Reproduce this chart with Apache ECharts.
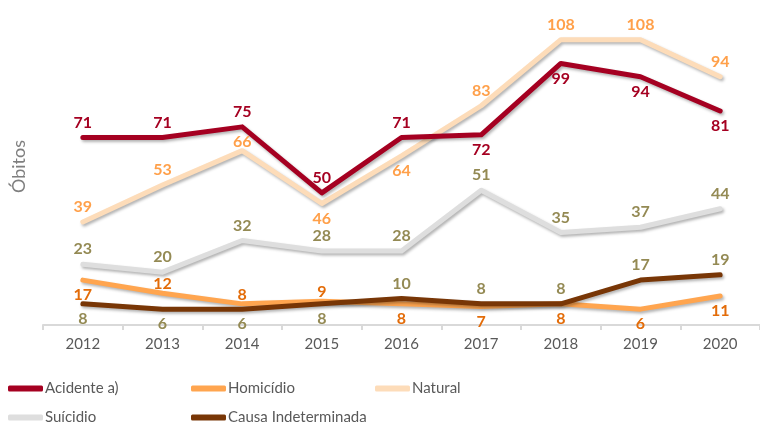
<!DOCTYPE html>
<html lang="pt">
<head>
    <meta charset="UTF-8">
    <title>Óbitos por causa</title>
    <script src="https://cdn.jsdelivr.net/npm/echarts@6/dist/echarts.min.js"></script>
    <style>
        body { margin: 0; background: #fff; }
        #chart { width: 760px; height: 423px; }
    </style>
</head>
<body>
<div id="chart"></div>
<script>
    // dados
    var anos = ['2012', '2013', '2014', '2015', '2016', '2017', '2018', '2019', '2020'];
    var acidente = [71, 71, 75, 50, 71, 72, 99, 94, 81];
    var homicidio = [17, 12, 8, 9, 8, 7, 8, 6, 11];
    var natural = [39, 53, 66, 46, 64, 83, 108, 108, 94];
    var suicidio = [23, 20, 32, 28, 28, 51, 35, 37, 44];
    var indeterminada = [8, 6, 6, 8, 10, 8, 8, 17, 19];

    // onde fica cada rótulo (t = em cima, T = em cima junto à linha, b = em baixo)
    var posAcidente = ['t', 't', 't', 't', 't', 'b', 'b', 'b', 'b'];
    var posHomicidio = ['b', 'T', 'T', 'T', 'b', 'b', 'b', 'b', 'b'];
    var posNatural = ['t', 't', 'T', 'b', 'b', 't', 't', 't', 't'];
    var posSuicidio = ['t', 't', 't', 't', 't', 't', 't', 't', 't'];
    var posIndet = ['b', 'b', 'b', 'b', 't', 't', 't', 't', 't'];

    var fonte = 'Lato, "DejaVu Sans", sans-serif';

    function pontos(valores, pos) {
        return valores.map(function (v, i) {
            var p = pos[i];
            return {
                value: v,
                label: { position: p === 'b' ? 'bottom' : 'top', distance: p === 'T' ? 1 : 7 }
            };
        });
    }

    function serie(nome, valores, pos, cor, corRotulo) {
        return {
            name: nome,
            type: 'line',
            data: pontos(valores, pos),
            symbol: 'circle',
            symbolSize: 0,
            showSymbol: true,
            lineStyle: {
                width: 5, color: cor, cap: 'round', join: 'round',
                shadowColor: 'rgba(0,0,0,0.3)', shadowBlur: 3, shadowOffsetX: 1.5, shadowOffsetY: 2
            },
            itemStyle: { color: cor },
            label: {
                show: true, color: corRotulo,
                fontFamily: fonte, fontSize: 16, fontWeight: 'bold'
            }
        };
    }

    function legenda(nome, left, top) {
        return {
            data: [nome], left: left, top: top,
            icon: 'roundRect', itemWidth: 35, itemHeight: 6, itemGap: 0,
            textStyle: { color: '#595959', fontFamily: fonte, fontSize: 15, padding: [0, 0, 0, -3] }
        };
    }

    var myChart = echarts.init(document.getElementById('chart'));

    var option = {
        animation: false,
        grid: { left: 43, right: -3, top: 8, bottom: 98 },
        graphic: [{
            type: 'text', left: 10, top: 140, rotation: Math.PI / 2,
            style: { text: 'Óbitos', fill: '#7f7f7f', font: '18px ' + fonte }
        }],
        legend: [
            legenda('Acidente a)', 3, 376),
            legenda('Homicídio', 186, 376),
            legenda('Natural', 370, 376),
            legenda('Suícidio', 3, 405),
            legenda('Causa Indeterminada', 186, 405)
        ],
        xAxis: {
            type: 'category',
            data: anos,
            axisLine: { lineStyle: { color: '#d9d9d9', width: 2 } },
            axisTick: { show: true, length: 5, lineStyle: { color: '#d9d9d9', width: 2 } },
            axisLabel: { color: '#595959', fontFamily: fonte, fontSize: 15, margin: 12 }
        },
        yAxis: {
            type: 'value',
            min: 0, max: 120,
            axisLine: { show: false },
            axisTick: { show: false },
            axisLabel: { show: false },
            splitLine: { show: false }
        },
        series: [
            serie('Natural', natural, posNatural, '#fddcb9', '#ffa04a'),
            serie('Suícidio', suicidio, posSuicidio, '#dedede', '#948a54'),
            serie('Homicídio', homicidio, posHomicidio, '#ffa54f', '#e36c09'),
            serie('Causa Indeterminada', indeterminada, posIndet, '#783606', '#948a54'),
            serie('Acidente a)', acidente, posAcidente, '#a50021', '#a50021')
        ]
    };

    myChart.setOption(option);
</script>
</body>
</html>
